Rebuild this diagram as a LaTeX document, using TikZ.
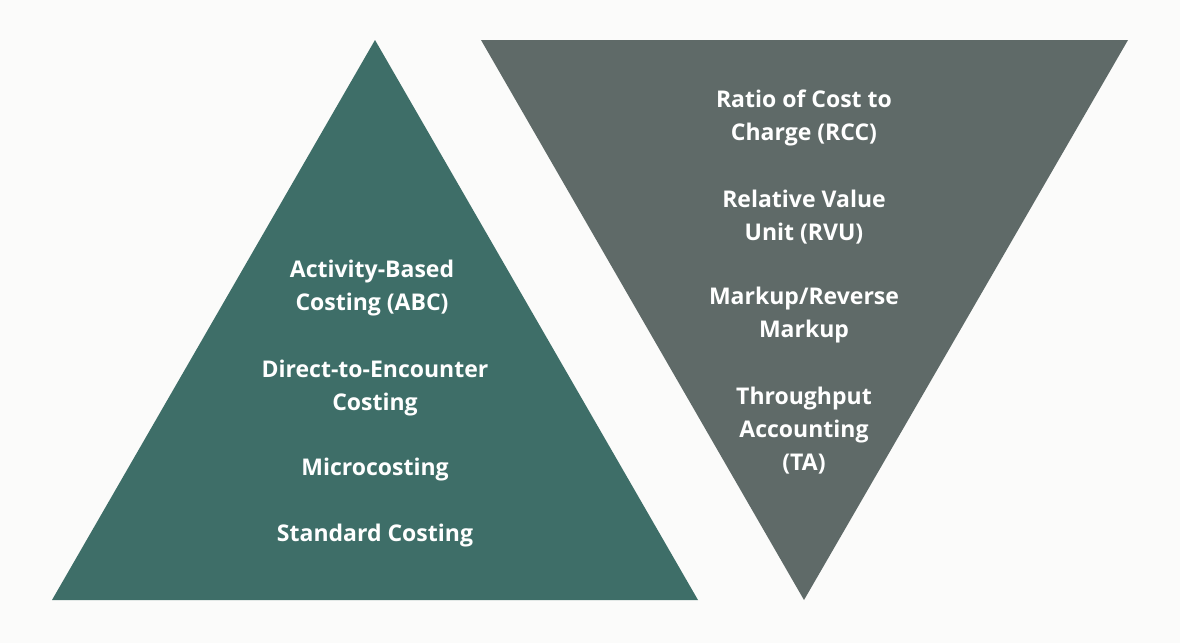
\documentclass[tikz,border=0pt]{standalone}
\usepackage{fontspec}
\setmainfont{Open Sans}
\newlength{\du}
\setlength{\du}{1pt}
\definecolor{bgcolor}{RGB}{251,251,250}
\definecolor{tealcolor}{RGB}{62,110,104}
\definecolor{graycolor}{RGB}{95,106,104}
\tikzset{
  label/.style={text=white,align=center,font=\fontsize{23}{33}\selectfont\bfseries},
}
\begin{document}
\begin{tikzpicture}[x=1\du,y=-1\du]
\fill[bgcolor] (0,0) rectangle (1180,643);
% left triangle
\fill[tealcolor] (375,40)--(698,600)--(52,600)--cycle;
% right triangle
\fill[graycolor] (481,40)--(1128,40)--(804,600)--cycle;
\node[label] (abc) at (372,288) {Activity-Based\\Costing (ABC)};
\node[label] (dte) at (375,388) {Direct-to-Encounter\\Costing};
\node[label] (micro) at (375,470) {Microcosting};
\node[label] (std) at (375,536) {Standard Costing};
\node[label] (rcc) at (804,118) {Ratio of Cost to\\Charge (RCC)};
\node[label] (rvu) at (804,217) {Relative Value\\Unit (RVU)};
\node[label] (markup) at (804,315) {Markup/Reverse\\Markup};
\node[label] (ta) at (804,431) {Throughput\\Accounting\\(TA)};
\end{tikzpicture}
\end{document}
